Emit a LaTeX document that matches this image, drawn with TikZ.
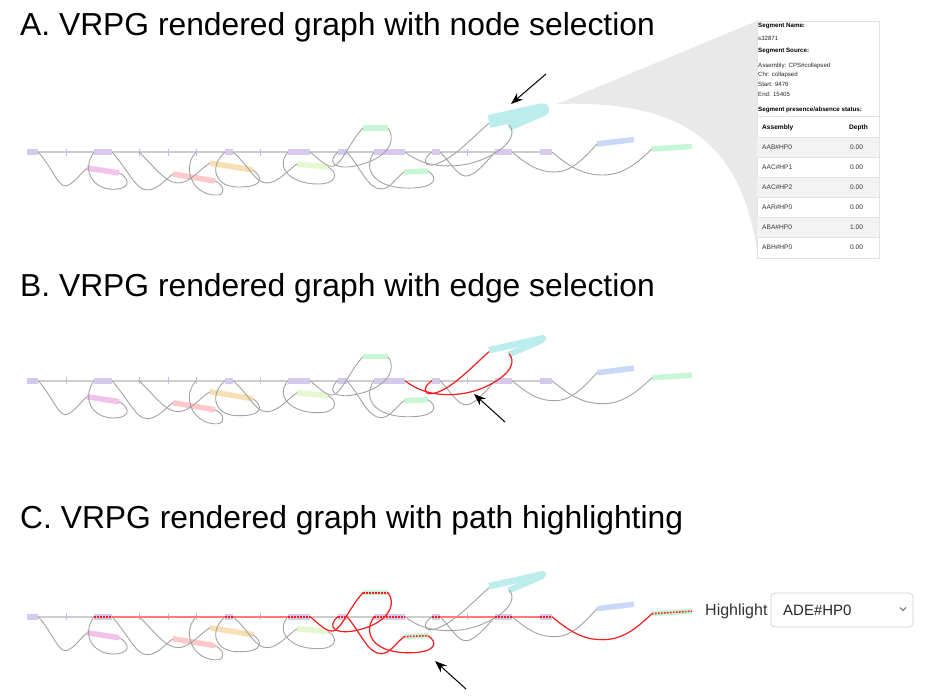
\documentclass[tikz,border=0pt]{standalone}
\usepackage{fontspec}
\setmainfont{Liberation Sans}
\usetikzlibrary{arrows.meta}
\definecolor{purp}{HTML}{D5C9EC}
\definecolor{tickc}{HTML}{C9B8EA}
\definecolor{bbone}{HTML}{CDCDCD}
\definecolor{edgeg}{HTML}{A3A3A3}
\definecolor{pinkc}{HTML}{F2C3EA}
\definecolor{salm}{HTML}{FFC9CC}
\definecolor{oran}{HTML}{F8DFB4}
\definecolor{limec}{HTML}{E5F8CF}
\definecolor{greenc}{HTML}{C7F7D7}
\definecolor{cyanc}{HTML}{BAEDEB}
\definecolor{bluec}{HTML}{C8D8F6}
\definecolor{redc}{HTML}{FF1A1A}
\definecolor{redbb}{HTML}{FF7A7A}
\definecolor{wedgec}{HTML}{E9E9E9}
\definecolor{stripe}{HTML}{F3F3F3}
\definecolor{pborder}{HTML}{E2E2E2}

\tikzset{
  bbline/.style={draw=bbone, line width=1.6pt},
  tickline/.style={draw=tickc, line width=0.8pt},
  gedge/.style={draw=edgegray, line width=0.9pt},
  redge/.style={draw=redc, line width=1.1pt},
  redbbline/.style={draw=redbb, line width=2pt},
  rdots/.style={draw=redc, line width=1.6pt, dash pattern=on 1.6pt off 1.4pt},
  segline/.style={line width=5.5pt},
  titletext/.style={anchor=base west, inner sep=0pt, font=\fontsize{31.8}{36}\selectfont},
  ptxt/.style={anchor=west, inner sep=0pt, font=\fontsize{6.1}{7}\selectfont, text=black!85},
  pbold/.style={anchor=west, inner sep=0pt, font=\fontsize{6.2}{7}\selectfont\bfseries, text=black},
  ttxt/.style={anchor=west, inner sep=0pt, font=\fontsize{6.6}{8}\selectfont, text=black!80},
  callarrow/.style={-{Stealth[length=12pt,width=9pt]}, line width=1pt, draw=black},
}
\colorlet{edgegray}{edgeg}

\newcommand\vpn[3]{\fill[purp] (#2,-3) rectangle (#3,3); \coordinate (#1l) at (#2,0); \coordinate (#1r) at (#3,0);}
\newcommand\vcs[6]{\draw[segline,#2] (#3,#4) -- (#5,#6); \coordinate (#1l) at (#3,#4); \coordinate (#1r) at (#5,#6);}

\newcommand\eA{(P1r) .. controls (50,12) and (58,34) .. (65,34) .. controls (72,34) and (80,22) .. (pinkl)}
\newcommand\eB{(P2l) .. controls (80,20) and (95,40) .. (118,37) .. controls (132,35) and (128,25) .. (pinkr)}
\newcommand\eC{(P2r) .. controls (128,18) and (136,38) .. (147,38) .. controls (157,38) and (165,28) .. (salml)}
\newcommand\eD{(T139) .. controls (152,12) and (165,31) .. (178,31) .. controls (190,31) and (200,17) .. (oranl)}
\newcommand\eE{(T196) .. controls (180,18) and (195,45) .. (218,43) .. controls (226,42) and (224,33) .. (salmr)}
\newcommand\eF{(P3l) .. controls (208,15) and (215,36) .. (240,35) .. controls (262,35) and (264,26) .. (oranr)}
\newcommand\eG{(P3r) .. controls (250,15) and (255,31) .. (267,31) .. controls (278,31) and (288,18) .. (limel)}
\newcommand\eH{(P4l) .. controls (275,15) and (290,32) .. (318,32) .. controls (338,32) and (338,20) .. (limer)}
\newcommand\eX{(P4r) .. controls (320,8) and (327,16) .. (334,14) .. controls (342,11) and (350,-10) .. (gtopl)}
\newcommand\eY{(gtopr) .. controls (398,-10) and (385,8) .. (355,14) .. controls (335,18) and (326,10) .. (P5l)}
\newcommand\eZ{(P5r) .. controls (360,15) and (368,37) .. (381,37) .. controls (390,37) and (396,26) .. (glowl)}
\newcommand\eW{(P6l) .. controls (362,18) and (375,35) .. (405,36) .. controls (438,37) and (438,25) .. (glowr)}
\newcommand\eM{(P6r) .. controls (420,12) and (440,16) .. (462,13) .. controls (490,9) and (522,-12) .. (cyanb)}
\newcommand\eN{(cyana) .. controls (470,-12) and (450,10) .. (432,13) .. controls (422,14) and (424,5) .. (P7l)}
\newcommand\eO{(P7r) .. controls (452,12) and (458,25) .. (467,24) .. controls (476,23) and (488,8) .. (P8l)}
\newcommand\eP{(P8r) .. controls (530,15) and (540,20) .. (555,20) .. controls (572,20) and (585,5) .. (bluel)}
\newcommand\eQ{(P9r) .. controls (572,17) and (585,23) .. (603,23) .. controls (625,23) and (640,8) .. (grightl)}

\newcommand\vrpgbase[3]{%
  \coordinate (BBl) at (27,0); \coordinate (BBr) at (552,0);
  \draw[bbline] (BBl) -- (BBr);
  \foreach \tk in {66,139,168,196,260,467} {\draw[tickline] (\tk,-3.5) -- (\tk,3.5);}
  \coordinate (T139) at (139,0); \coordinate (T196) at (196,0);
  \vpn{P1}{27}{38}\vpn{P2}{94}{112}\vpn{P3}{225}{233}\vpn{P4}{288}{310}
  \vpn{P5}{338}{347}\vpn{P6}{374}{405}\vpn{P7}{432}{440}\vpn{P8}{495}{512}\vpn{P9}{540}{552}
  \vcs{pink}{pinkc}{87}{16}{119}{21}
  \vcs{salm}{salm}{173}{22}{215}{29}
  \vcs{oran}{oran}{210}{11}{253}{18}
  \vcs{lime}{limec}{297}{12}{328}{15}
  \vcs{gtop}{greenc}{363}{-24}{388}{-24}
  \vcs{glow}{greenc}{404}{20}{428}{19}
  \vcs{blue}{bluec}{597}{-8}{634}{-12.5}
  \vcs{gright}{greenc}{652}{-3}{692}{-5.5}
  \draw[cyanc, line width=#1pt] (489,-30.5) -- (543,-42.5);
  \draw[cyanc, line width=#2pt] (508.5,-26) -- (543,-41);
  \fill[cyanc] (543,-42.2) circle (#3pt);
  \coordinate (cyana) at (489,-29); \coordinate (cyanb) at (509,-27);
  \draw[gedge] \eA; \draw[gedge] \eB; \draw[gedge] \eC; \draw[gedge] \eD;
  \draw[gedge] \eE; \draw[gedge] \eF; \draw[gedge] \eG; \draw[gedge] \eH;
  \draw[gedge] \eX; \draw[gedge] \eY; \draw[gedge] \eZ; \draw[gedge] \eW;
  \draw[gedge] \eM; \draw[gedge] \eN; \draw[gedge] \eO; \draw[gedge] \eP;
  \draw[gedge] \eQ;
}

\begin{document}
\begin{tikzpicture}[x=1pt,y=-1pt]
\useasboundingbox (0,0) rectangle (949,696);
\fill[white] (0,0) rectangle (949,696);

% titles
\node[titletext] (tA) at (20,35) {A. VRPG rendered graph with node selection};
\node[titletext] (tB) at (20,296) {B. VRPG rendered graph with edge selection};
\node[titletext] (tC) at (20,528) {C. VRPG rendered graph with path highlighting};

% callout wedge and info panel
\coordinate (wtip) at (557,104);
\coordinate (ptl) at (757,21);
\coordinate (pbl) at (757,250);
\fill[wedgec] (wtip) -- (ptl) -- (pbl) .. controls (740,140) and (680,100) .. (wtip) -- cycle;
\draw[draw=pborder, fill=white, line width=0.6pt] (757,21) rectangle (879,258);
\node[pbold] (sn) at (758,26) {Segment Name:};
\node[ptxt] (sv) at (758,38.5) {s32871};
\node[pbold] (ss) at (758,51) {Segment Source:};
\node[ptxt] (sa) at (758,65.5) {Assembly: CPS\#collapsed};
\node[ptxt] (sc) at (758,75) {Chr: collapsed};
\node[ptxt] (st) at (758,84.5) {Start: 9476};
\node[ptxt] (se) at (758,94) {End: 15405};
\node[pbold] (sp) at (758,109.5) {Segment presence/absence status:};
\draw[pborder, line width=0.5pt] (757,116) -- (879,116);
\foreach \ya in {137,177,217} {\fill[stripe] (757.4,\ya) rectangle (878.6,\ya+20);}
\foreach \yb in {137,157,177,197,217,237} {\draw[pborder, line width=0.4pt] (757.4,\yb) -- (878.6,\yb);}
\node[pbold, font=\fontsize{6.6}{8}\selectfont\bfseries] (ha) at (762,127.5) {Assembly};
\node[pbold, font=\fontsize{6.6}{8}\selectfont\bfseries] (hd) at (849,127.5) {Depth};
\node[ttxt] (r1) at (762,147) {AAB\#HP0}; \node[ttxt] (v1) at (850,147) {0.00};
\node[ttxt] (r2) at (762,167) {AAC\#HP1}; \node[ttxt] (v2) at (850,167) {0.00};
\node[ttxt] (r3) at (762,187) {AAC\#HP2}; \node[ttxt] (v3) at (850,187) {0.00};
\node[ttxt] (r4) at (762,207) {AAR\#HP0}; \node[ttxt] (v4) at (850,207) {0.00};
\node[ttxt] (r5) at (762,227) {ABA\#HP0}; \node[ttxt] (v5) at (850,227) {1.00};
\node[ttxt] (r6) at (762,247) {ABH\#HP0}; \node[ttxt] (v6) at (850,247) {0.00};

% Panel A
\begin{scope}[yshift=-152pt]
  \vrpgbase{13}{10}{6.3}
\end{scope}

% Panel B
\begin{scope}[yshift=-380.7pt]
  \vrpgbase{6.5}{6}{3.4}
  \draw[redge] \eM;
  \draw[redge] \eN;
\end{scope}

% Panel C
\begin{scope}[yshift=-616.7pt]
  \vrpgbase{6.5}{6}{3.4}
  \draw[redbbline] (P2r) -- (P3l);
  \draw[redbbline] (P3r) -- (P4l);
  \draw[redbbline] (P7r) -- (P8l);
  \draw[redbbline] (P8r) -- (P9l);
  \draw[redge] \eX; \draw[redge] \eY; \draw[redge] \eZ; \draw[redge] \eW; \draw[redge] \eQ;
  \foreach \nd in {P2,P3,P4,P5,P6,P7,P8,P9,gtop,glow,gright} {\draw[rdots] (\nd l) -- (\nd r);}
\end{scope}

% arrows
\coordinate (aAt) at (546,74); \coordinate (aAh) at (511,104);
\coordinate (aBt) at (505,422); \coordinate (aBh) at (474,394);
\coordinate (aCt) at (466,689); \coordinate (aCh) at (435,661);
\draw[callarrow] (aAt) -- (aAh);
\draw[callarrow] (aBt) -- (aBh);
\draw[callarrow] (aCt) -- (aCh);

% highlight selector
\node[anchor=base west, inner sep=0pt, font=\fontsize{16}{18}\selectfont, text=black!80] (hl) at (705,615.3) {Highlight};
\draw[draw=black!18, line width=0.8pt, rounded corners=4pt] (771,593) rectangle (913,627);
\node[anchor=base west, inner sep=0pt, font=\fontsize{15}{18}\selectfont, text=black!85] (sel) at (783,615) {ADE\#HP0};
\coordinate (chl) at (900,607.5); \coordinate (chm) at (903,610.5); \coordinate (chr) at (906,607.5);
\draw[black!60, line width=0.8pt] (chl) -- (chm) -- (chr);
\end{tikzpicture}
\end{document}
